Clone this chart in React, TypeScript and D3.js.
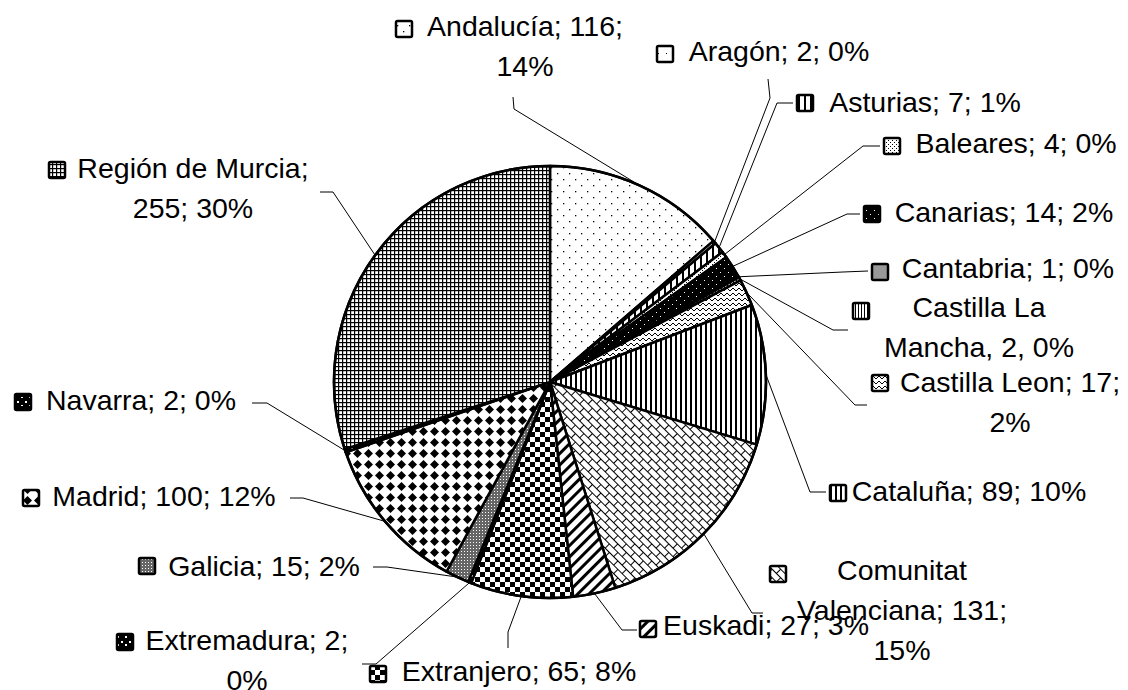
import React from 'react';
import * as d3 from 'd3';

const regions = [
  'Andalucía', 'Aragón', 'Asturias', 'Baleares', 'Canarias', 'Cantabria',
  'Castilla La Mancha', 'Castilla Leon', 'Cataluña', 'Comunitat Valenciana',
  'Euskadi', 'Extranjero', 'Extremadura', 'Galicia', 'Madrid', 'Navarra',
  'Región de Murcia',
];
const counts = [116, 2, 7, 4, 14, 1, 2, 17, 89, 131, 27, 65, 2, 15, 100, 2, 255];
const labelLines = [
  ['Andalucía; 116;', '14%'],
  ['Aragón; 2; 0%'],
  ['Asturias; 7; 1%'],
  ['Baleares; 4; 0%'],
  ['Canarias; 14; 2%'],
  ['Cantabria; 1; 0%'],
  ['Castilla La', 'Mancha, 2, 0%'],
  ['Castilla Leon; 17;', '2%'],
  ['Cataluña; 89; 10%'],
  ['Comunitat', 'Valenciana; 131;', '15%'],
  ['Euskadi; 27; 3%'],
  ['Extranjero; 65; 8%'],
  ['Extremadura; 2;', '0%'],
  ['Galicia; 15; 2%'],
  ['Madrid; 100; 12%'],
  ['Navarra; 2; 0%'],
  ['Región de Murcia;', '255; 30%'],
];

// label placement (layout only)
const labelLayout = [
  { kx: 395, ky: 20, cx: 525, by: 36, lead: [[513, 97], [514, 109]] },
  { kx: 656, ky: 45, cx: 779, by: 61, lead: [[768, 79], [770, 98]] },
  { kx: 796, ky: 94, cx: 925, by: 112, lead: [[793, 103], [777, 103]] },
  { kx: 883, ky: 137, cx: 1016, by: 153, lead: [[880, 146], [863, 146]] },
  { kx: 863, ky: 205, cx: 1004, by: 222, lead: [[860, 214], [847, 214]] },
  { kx: 871, ky: 263, cx: 1008, by: 278, lead: [[868, 271], [843, 272]] },
  { kx: 852, ky: 302, cx: 979, by: 317, lead: [[848, 330], [833, 330]] },
  { kx: 871, ky: 374, cx: 1010, by: 392, lead: [[867, 405], [855, 405]] },
  { kx: 829, ky: 484, cx: 969, by: 501, lead: [[826, 492], [810, 492]] },
  { kx: 769, ky: 565, cx: 902, by: 580, lead: [[763, 613], [752, 613]] },
  { kx: 639, ky: 620, cx: 766, by: 635, lead: [[637, 630], [622, 630]] },
  { kx: 369, ky: 665, cx: 519, by: 681, lead: [[508, 648], [508, 632]] },
  { kx: 116, ky: 633, cx: 247, by: 650, lead: [[362, 664], [376, 664]] },
  { kx: 138, ky: 557, cx: 264, by: 576, lead: [[373, 567], [387, 567]] },
  { kx: 22, ky: 489, cx: 164, by: 506, lead: [[290, 498], [303, 498]] },
  { kx: 14, ky: 393, cx: 141, by: 410, lead: [[252, 403], [267, 403]] },
  { kx: 48, ky: 161, cx: 193, by: 178, lead: [[320, 192], [333, 192]] },
];

const W = 1128;
const H = 690;
const CX = 550;
const CY = 382;
const R = 216;
const LINE_H = 40;
const KEY = 18;

function Patterns() {
  const B = '#000';
  const Wt = '#fff';
  return (
    <defs>
      <pattern id="p0" width="12" height="12" patternUnits="userSpaceOnUse">
        <rect width="12" height="12" fill={Wt} />
        <rect x="1" y="1" width="1.3" height="1.3" fill={B} />
        <rect x="7" y="7" width="1.3" height="1.3" fill={B} />
      </pattern>
      <pattern id="p1" width="8" height="8" patternUnits="userSpaceOnUse">
        <rect width="8" height="8" fill={Wt} />
        <rect x="2" y="5" width="1" height="1" fill={B} />
      </pattern>
      <pattern id="p2" width="6" height="6" patternUnits="userSpaceOnUse">
        <rect width="6" height="6" fill={Wt} />
        <rect x="0" y="0" width="2" height="6" fill={B} />
      </pattern>
      <pattern id="p3" width="4" height="4" patternUnits="userSpaceOnUse">
        <rect width="4" height="4" fill={Wt} />
        <rect x="0" y="0" width="1" height="1" fill={B} />
        <rect x="2" y="2" width="1" height="1" fill={B} />
      </pattern>
      <pattern id="p4" width="8" height="8" patternUnits="userSpaceOnUse">
        <rect width="8" height="8" fill={B} />
        <rect x="2" y="2" width="1" height="1" fill={Wt} />
        <rect x="6" y="6" width="1" height="1" fill={Wt} />
      </pattern>
      <pattern id="p5" width="4" height="4" patternUnits="userSpaceOnUse">
        <rect width="4" height="4" fill="#999" />
      </pattern>
      <pattern id="p6" width="3" height="3" patternUnits="userSpaceOnUse">
        <rect width="3" height="3" fill={Wt} />
        <rect x="0" y="0" width="1" height="3" fill={B} />
      </pattern>
      <pattern id="p7" width="6" height="5" patternUnits="userSpaceOnUse">
        <rect width="6" height="5" fill={Wt} />
        <polyline points="0,4 3,1 6,4" fill="none" stroke={B} strokeWidth="1" />
      </pattern>
      <pattern id="p8" width="5" height="5" patternUnits="userSpaceOnUse">
        <rect width="5" height="5" fill={Wt} />
        <rect x="0" y="0" width="2" height="5" fill={B} />
      </pattern>
      <pattern id="p9" width="12" height="12" patternUnits="userSpaceOnUse" patternTransform="rotate(45)">
        <rect width="12" height="12" fill={Wt} />
        <line x1="0" y1="0.5" x2="12" y2="0.5" stroke={B} strokeWidth="1" />
        <line x1="0" y1="6.5" x2="12" y2="6.5" stroke={B} strokeWidth="1" />
        <line x1="0.5" y1="0" x2="0.5" y2="6.5" stroke={B} strokeWidth="1" />
        <line x1="6.5" y1="6.5" x2="6.5" y2="12" stroke={B} strokeWidth="1" />
      </pattern>
      <pattern id="p10" width="8" height="8" patternUnits="userSpaceOnUse" patternTransform="rotate(45)">
        <rect width="8" height="8" fill={Wt} />
        <rect x="0" y="0" width="3" height="8" fill={B} />
      </pattern>
      <pattern id="p11" width="10" height="10" patternUnits="userSpaceOnUse">
        <rect width="10" height="10" fill={Wt} />
        <rect x="0" y="0" width="5" height="5" fill={B} />
        <rect x="5" y="5" width="5" height="5" fill={B} />
      </pattern>
      <pattern id="p12" width="8" height="8" patternUnits="userSpaceOnUse">
        <rect width="8" height="8" fill={B} />
        <rect x="1" y="1" width="2" height="2" fill={Wt} />
        <rect x="5" y="4" width="2" height="2" fill={Wt} />
      </pattern>
      <pattern id="p13" width="3" height="3" patternUnits="userSpaceOnUse">
        <rect width="3" height="3" fill="#666" />
        <rect x="1" y="1" width="1" height="1" fill={Wt} />
      </pattern>
      <pattern id="p14" width="11" height="11" patternUnits="userSpaceOnUse">
        <rect width="11" height="11" fill={Wt} />
        <polygon points="5.5,1 10,5.5 5.5,10 1,5.5" fill={B} />
      </pattern>
      <pattern id="p15" width="8" height="8" patternUnits="userSpaceOnUse">
        <rect width="8" height="8" fill={B} />
        <rect x="1" y="1" width="2" height="2" fill={Wt} />
        <rect x="5" y="5" width="2" height="1" fill={Wt} />
      </pattern>
      <pattern id="p16" width="4" height="4" patternUnits="userSpaceOnUse">
        <rect width="4" height="4" fill={Wt} />
        <rect x="0" y="0" width="4" height="1.2" fill={B} />
        <rect x="0" y="0" width="1.2" height="4" fill={B} />
      </pattern>
    </defs>
  );
}

export default function App() {
  const pie = d3.pie<number>().sort(null).value((d) => d).startAngle(0).endAngle(2 * Math.PI);
  const arcs = pie(counts);
  const arc = d3.arc<d3.PieArcDatum<number>>().innerRadius(0).outerRadius(R);
  const edge = d3.arc<d3.PieArcDatum<number>>().innerRadius(R).outerRadius(R);
  const line = d3.line();

  return (
    <svg
      width={W}
      height={H}
      style={{ position: 'absolute', left: 0, top: 0, background: '#fff' }}
      fontFamily="'Liberation Sans', Arial, sans-serif"
    >
      <Patterns />
      <rect width={W} height={H} fill="#fff" />
      <g transform={`translate(${CX},${CY})`}>
        {arcs.map((a, i) => (
          <path
            key={regions[i]}
            d={arc(a) || ''}
            fill={`url(#p${i})`}
            stroke="#000"
            strokeWidth={2.5}
            strokeLinejoin="round"
          />
        ))}
        <circle r={R} fill="none" stroke="#000" strokeWidth={2.5} />
      </g>
      {arcs.map((a, i) => {
        const [ex, ey] = edge.centroid(a);
        const pts = [...labelLayout[i].lead, [ex + CX, ey + CY]] as [number, number][];
        return (
          <path key={'l' + i} d={line(pts) || ''} fill="none" stroke="#000" strokeWidth={1} />
        );
      })}
      {labelLayout.map((L, i) => (
        <g key={'t' + i}>
          <rect
            x={L.kx + 1}
            y={L.ky + 1}
            width={KEY - 2}
            height={KEY - 2}
            fill={`url(#p${i})`}
            stroke="#000"
            strokeWidth={2.5}
            rx={1.5}
          />
          <text fontSize={28.5} fill="#000" textAnchor="middle">
            {labelLines[i].map((t, j) => (
              <tspan key={j} x={L.cx} y={L.by + j * LINE_H}>
                {t}
              </tspan>
            ))}
          </text>
        </g>
      ))}
    </svg>
  );
}
